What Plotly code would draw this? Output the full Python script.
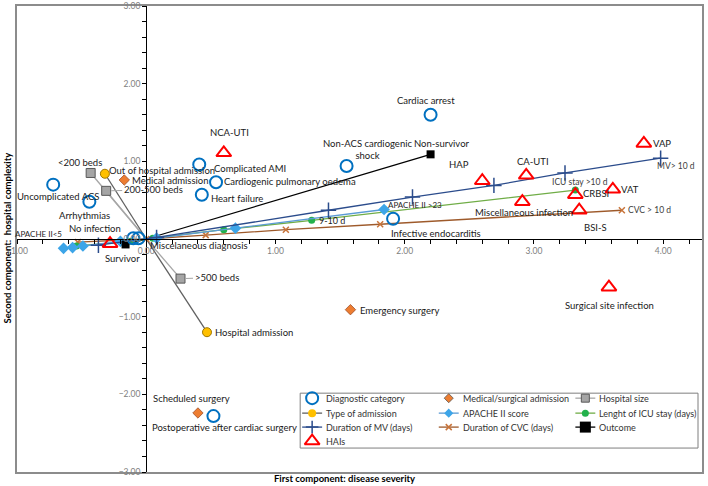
import plotly.graph_objects as go

# ---------------- data ----------------
diag_labels = ["Uncomplicated ACS", "Arrhythmias", "Complicated AMI", "Cardiogenic pulmonary oedema",
               "Heart failure", "Non-ACS cardiogenic<br>shock", "Cardiac arrest", "Infective endocarditis",
               "Postoperative after cardiac surgery", "Miscelaneous diagnosis", ""]
diag_x = [-0.72, -0.44, 0.41, 0.54, 0.43, 1.55, 2.20, 1.91, 0.52, -0.06, -0.10]
diag_y = [0.70, 0.48, 0.96, 0.73, 0.57, 0.94, 1.60, 0.26, -2.28, 0.01, 0.01]

adm_labels = ["Medical admission", "Scheduled surgery", "Emergency surgery"]
adm_x = [-0.17, 0.40, 1.58]
adm_y = [0.76, -2.24, -0.91]

size_labels = ["<200 beds", "200-500 beds", ">500 beds"]
size_x = [-0.43, -0.31, 0.265]
size_y = [0.85, 0.62, -0.51]

type_labels = ["Out of hospital admission", "Hospital admission"]
type_x = [-0.32, 0.47]
type_y = [0.84, -1.20]

apache_labels = ["APACHE II<5", "", "", "", "", "", "APACHE II >23"]
apache_x = [-0.64, -0.57, -0.49, -0.20, 0.08, 0.69, 1.84]
apache_y = [-0.12, -0.11, -0.09, -0.03, 0.01, 0.14, 0.38]

icu_labels = ["", "", "", "", "9-10 d", "ICU stay >10 d"]
icu_x = [-0.54, -0.12, 0.05, 0.60, 1.28, 3.32]
icu_y = [-0.09, -0.03, 0.01, 0.12, 0.24, 0.63]

mv_labels = ["", "", "", "", "", "", "MV> 10 d"]
mv_x = [-0.37, 0.08, 1.41, 2.06, 2.69, 3.24, 3.98]
mv_y = [-0.08, 0.02, 0.37, 0.54, 0.69, 0.85, 1.04]

cvc_labels = ["", "", "", "", "", "CVC > 10 d"]
cvc_x = [-0.53, 0.00, 0.46, 1.08, 1.81, 3.68]
cvc_y = [-0.04, 0.00, 0.05, 0.12, 0.19, 0.37]

out_labels = ["Survivor", "Non-survivor"]
out_x = [-0.16, 2.20]
out_y = [-0.07, 1.09]

hai_labels = ["NCA-UTI", "HAP", "CA-UTI", "VAP", "VAT", "CRBSI", "Miscellaneous infection",
              "BSI-S", "Surgical site infection", "No infection"]
hai_x = [0.60, 2.60, 2.94, 3.85, 3.61, 3.32, 2.91, 3.35, 3.58, -0.28]
hai_y = [1.11, 0.75, 0.82, 1.23, 0.64, 0.57, 0.48, 0.37, -0.62, -0.06]

legend_names = ["Diagnostic category", "Medical/surgical admission", "Hospital size",
                "Type of admission", "APACHE II score", "Lenght of ICU stay (days)",
                "Duration of MV (days)", "Duration of CVC (days)", "Outcome", "HAIs"]

x_range = [-1.0, 4.3]
y_range = [-3.0, 3.0]

# ---------------- style ----------------
FONT = "Lato, Roboto, sans-serif"
LS = 9.5          # label font size
TXT = "#1a1a1a"
C_DIAG = "#0070C0"
C_ADM = "#ED7D31"
C_SIZE_F, C_SIZE_L = "#A5A5A5", "#A6A6A6"
C_TYPE_F, C_TYPE_L = "#FFC000", "#606060"
C_AP_M, C_AP_L = "#3DA5E8", "#5B9BD5"
C_ICU_M, C_ICU_L = "#22B14C", "#70AD47"
C_MV = "#2B4C8C"
C_CVC_M, C_CVC_L = "#C8743A", "#9E5A2B"
C_HAI = "#FF0000"
C_FRAME = "#8C8C8C"

# label offsets (pixels, dx right, dy up)
diag_off = [(5, -12), (-5, -14), (51, -4), (74, 1), (35, -4), (21, 16), (-5, 14), (43, -15),
            (11, -11), (61, -7), (0, 0)]
adm_off = [(46, -1), (-6, 14), (49, -1)]
size_off = [(-11, 10), None, None]
type_off = [(57, 3), (47, 0)]
apache_off = [(-25, 14), None, None, None, None, None, (31, 4)]
icu_off = [None, None, None, None, (20, 0), (5, 8)]
mv_off = [None] * 6 + [(15, -8)]
cvc_off = [None] * 5 + [(28, 0)]
out_off = [(-3, -14), (11, 11)]
hai_off = [(6, 20), (-23, 16), (7, 14), (18, 0), (17, 0), (21, 1), (2, -11), (16, -17), (1, -18), (-15, 15)]

fig = go.Figure()


def to_origin(xs, ys):
    lx, ly = [], []
    for a, b in zip(xs, ys):
        lx += [a, 0, None]
        ly += [b, 0, None]
    return lx, ly


# connecting lines
lx, ly = to_origin(size_x, size_y)
fig.add_trace(go.Scatter(x=lx, y=ly, mode="lines", line=dict(color=C_SIZE_L, width=1.3), hoverinfo="skip"))
lx, ly = to_origin(type_x, type_y)
fig.add_trace(go.Scatter(x=lx, y=ly, mode="lines", line=dict(color=C_TYPE_L, width=1.3), hoverinfo="skip"))
lx, ly = to_origin(out_x, out_y)
fig.add_trace(go.Scatter(x=lx, y=ly, mode="lines", line=dict(color="black", width=1.3), hoverinfo="skip"))

fig.add_trace(go.Scatter(x=cvc_x, y=cvc_y, mode="lines+markers", line=dict(color=C_CVC_L, width=1.3),
                         marker=dict(symbol="x-thin", size=6, color=C_CVC_M, line=dict(color=C_CVC_M, width=1.5))))
fig.add_trace(go.Scatter(x=icu_x, y=icu_y, mode="lines+markers", line=dict(color=C_ICU_L, width=1.3),
                         marker=dict(symbol="circle", size=7, color=C_ICU_M)))
fig.add_trace(go.Scatter(x=apache_x, y=apache_y, mode="lines+markers", line=dict(color=C_AP_L, width=1.3),
                         marker=dict(symbol="diamond", size=9, color=C_AP_M)))
fig.add_trace(go.Scatter(x=mv_x, y=mv_y, mode="lines+markers", line=dict(color=C_MV, width=1.3),
                         marker=dict(symbol="cross-thin", size=11, color=C_MV, line=dict(color=C_MV, width=1.5))))

fig.add_trace(go.Scatter(x=size_x, y=size_y, mode="markers",
                         marker=dict(symbol="square", size=9, color=C_SIZE_F, line=dict(color="#595959", width=1))))
fig.add_trace(go.Scatter(x=type_x, y=type_y, mode="markers",
                         marker=dict(symbol="circle", size=9, color=C_TYPE_F, line=dict(color="#A07800", width=1))))
fig.add_trace(go.Scatter(x=adm_x, y=adm_y, mode="markers",
                         marker=dict(symbol="diamond", size=8, color=C_ADM, line=dict(color="#A0522D", width=0.8))))
fig.add_trace(go.Scatter(x=out_x, y=out_y, mode="markers",
                         marker=dict(symbol="square", size=8, color="black")))
fig.add_trace(go.Scatter(x=diag_x, y=diag_y, mode="markers",
                         marker=dict(symbol="circle-open", size=12, color=C_DIAG, line=dict(color=C_DIAG, width=2))))
fig.add_trace(go.Scatter(x=hai_x, y=hai_y, mode="markers",
                         marker=dict(symbol="triangle-up-open", size=13, color=C_HAI, line=dict(color=C_HAI, width=2))))

annotations = []


def add_labels(labels, xs, ys, offs, size=LS, color=TXT):
    for lab, a, b, o in zip(labels, xs, ys, offs):
        if not lab or o is None:
            continue
        annotations.append(dict(x=a, y=b, xref="x", yref="y", text=lab, showarrow=False,
                                xshift=o[0], yshift=o[1], xanchor="center", yanchor="middle",
                                font=dict(family=FONT, size=size, color=color)))


add_labels(diag_labels, diag_x, diag_y, diag_off)
add_labels(adm_labels, adm_x, adm_y, adm_off)
add_labels(size_labels, size_x, size_y, size_off)
add_labels(type_labels, type_x, type_y, type_off)
add_labels(apache_labels, apache_x, apache_y, apache_off, size=8, color="#262626")
add_labels(icu_labels[:5], icu_x[:5], icu_y[:5], icu_off[:5], size=9, color=TXT)
add_labels(icu_labels[5:], icu_x[5:], icu_y[5:], icu_off[5:], size=8.5, color="#404040")
add_labels(mv_labels, mv_x, mv_y, mv_off, size=8.5, color="#404040")
add_labels(cvc_labels, cvc_x, cvc_y, cvc_off, size=8.5, color="#404040")
add_labels(out_labels, out_x, out_y, out_off)
add_labels(hai_labels, hai_x, hai_y, hai_off)

# leader-line labels for hospital size
for i, (ax_, ay_) in [(1, (47, -1)), (2, (36, -1))]:
    annotations.append(dict(x=size_x[i], y=size_y[i], xref="x", yref="y", text=size_labels[i],
                            showarrow=True, ax=ax_, ay=ay_, arrowhead=0, arrowwidth=1,
                            arrowcolor="#A6A6A6", standoff=5,
                            font=dict(family=FONT, size=LS, color=TXT)))

# ---------- layout geometry ----------
W, H = 708, 486
PL, PR, PT, PB = 17, 704, 5, 472


def fx(px):
    return (px - PL) / (PR - PL)


def fy(py):
    return (PB - py) / (PB - PT)


# axis titles
annotations.append(dict(x=fx(345), y=fy(479), xref="paper", yref="paper", showarrow=False,
                        xanchor="center", yanchor="middle",
                        text="<b>First component: disease severity</b>",
                        font=dict(family=FONT, size=9.5, color="black")))
annotations.append(dict(x=fx(7), y=fy(238), xref="paper", yref="paper", showarrow=False, textangle=-90,
                        xanchor="center", yanchor="middle",
                        text="<b>Second component:  hospital complexity</b>",
                        font=dict(family=FONT, size=9.5, color="black")))

# ---------- custom legend ----------
col_c = [313, 450, 587]
row_c = [398, 413, 427, 441]
leg_style = [
    dict(symbol="circle-open", size=12, color=C_DIAG, lw=2, line=None),
    dict(symbol="diamond", size=7, color=C_ADM, lw=0.8, line=None),
    dict(symbol="square", size=8, color=C_SIZE_F, lw=1, line=C_SIZE_L),
    dict(symbol="circle", size=8, color=C_TYPE_F, lw=0, line=C_TYPE_L),
    dict(symbol="diamond", size=7, color=C_AP_M, lw=0, line=C_AP_L),
    dict(symbol="circle", size=7, color=C_ICU_M, lw=0, line=C_ICU_L),
    dict(symbol="cross-thin", size=9, color=C_MV, lw=1.5, line=C_MV),
    dict(symbol="x-thin", size=6, color=C_CVC_M, lw=1.5, line=C_CVC_L),
    dict(symbol="square", size=11, color="black", lw=0, line="black"),
    dict(symbol="triangle-up-open", size=13, color=C_HAI, lw=2, line=None),
]
for k, (name, st) in enumerate(zip(legend_names, leg_style)):
    c, r = k % 3, k // 3
    cx, cy = col_c[c], row_c[r]
    if st["line"]:
        fig.add_trace(go.Scatter(x=[fx(cx - 10), fx(cx + 10)], y=[fy(cy), fy(cy)], mode="lines",
                                 xaxis="x2", yaxis="y2", line=dict(color=st["line"], width=1.3),
                                 hoverinfo="skip", cliponaxis=False))
    open_sym = st["symbol"].endswith("open") or st["symbol"].endswith("thin")
    mk = dict(symbol=st["symbol"], size=st["size"], color=st["color"])
    if open_sym:
        mk["line"] = dict(color=st["color"], width=st["lw"])
    else:
        mk["line"] = dict(color="#595959" if st["lw"] else st["color"], width=st["lw"])
    fig.add_trace(go.Scatter(x=[fx(cx)], y=[fy(cy)], mode="markers", xaxis="x2", yaxis="y2",
                             marker=mk, hoverinfo="skip", cliponaxis=False))
    annotations.append(dict(x=fx(cx + 12), y=fy(cy), xref="paper", yref="paper", text=name,
                            showarrow=False, xanchor="left", yanchor="middle",
                            font=dict(family=FONT, size=9, color="#333333")))

shapes = [
    dict(type="rect", xref="paper", yref="paper", x0=fx(301), x1=fx(700), y0=fy(448), y1=fy(393),
         line=dict(color="#7F7F7F", width=1), fillcolor="white", layer="below"),
]

tickfont = dict(family=FONT, size=8.5, color="#808080")
frame_ax = dict(range=[0, 1], showline=True, mirror=True, linecolor=C_FRAME, linewidth=1.5,
                showticklabels=False, ticks="", showgrid=False, zeroline=False, fixedrange=True)
fig.update_layout(
    width=W, height=H,
    margin=dict(l=PL, r=W - PR, t=PT, b=H - PB, pad=0),
    paper_bgcolor="white", plot_bgcolor="white",
    showlegend=False,
    xaxis=dict(range=x_range, anchor="free", position=(0 - y_range[0]) / (y_range[1] - y_range[0]),
               showgrid=False, zeroline=False, showline=True, linecolor="black", linewidth=1.3,
               dtick=1, tickformat=".2f", ticks="outside", ticklen=4, tickcolor="black",
               minor=dict(dtick=0.2, ticks="outside", ticklen=4, tickcolor="black"),
               tickfont=tickfont, automargin=False, fixedrange=True, ticklabeloverflow="allow"),
    yaxis=dict(range=y_range, anchor="free", position=(0 - x_range[0]) / (x_range[1] - x_range[0]),
               showgrid=False, zeroline=False, showline=True, linecolor="black", linewidth=1.3,
               dtick=1, tickformat=".2f", ticks="outside", ticklen=4, tickcolor="black",
               minor=dict(dtick=0.2, ticks="outside", ticklen=4, tickcolor="black"),
               tickfont=tickfont, automargin=False, fixedrange=True, ticklabeloverflow="allow"),
    xaxis2=dict(overlaying="x", anchor="y2", side="bottom", **frame_ax),
    yaxis2=dict(overlaying="y", anchor="x2", side="left", **frame_ax),
    annotations=annotations,
    shapes=shapes,
)

fig.write_html("out.html", config={"displayModeBar": False},
               post_script="document.body.style.margin='0';document.body.style.overflow='hidden';")
